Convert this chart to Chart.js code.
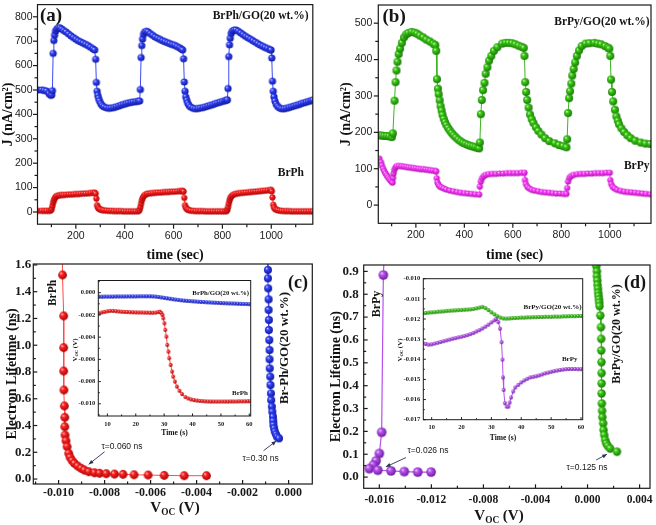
<!DOCTYPE html>
<html><head><meta charset="utf-8">
<script src="https://cdn.jsdelivr.net/npm/chart.js@4.4.1/dist/chart.umd.min.js"></script>
<style>
html,body{margin:0;padding:0;background:#fff;}
#wrap{position:relative;width:656px;height:525px;overflow:hidden;background:#fff;}
canvas{position:absolute;}
.lbl{position:absolute;white-space:nowrap;line-height:1;color:#151515;}
.serif{font-family:"Liberation Serif","Times New Roman",serif;font-weight:bold;}
.sans{font-family:"Liberation Sans",Arial,sans-serif;}
.sub{font-size:0.62em;position:relative;top:0.3em;}
</style></head>
<body><div id="wrap">
<canvas id="cA"></canvas><canvas id="cB"></canvas><canvas id="cC"></canvas><canvas id="cD"></canvas>
<canvas id="cIC"></canvas><canvas id="cID"></canvas>
</div>
<script>
// ---------------- DATA ----------------
// (a) photocurrent vs time
const timeA = [45,60,70,80,90,97,101,104,107,110,113,117,122,128,135,142,150,160,170,180,190,200,210,220,230,240,250,260,270,277,281,284,287,290,293,297,302,308,315,325,335,345,355,365,375,385,395,405,415,425,435,445,455,461,464,467,470,473,477,482,489,496,505,515,525,535,545,555,565,575,585,595,605,615,625,632,637,641,644,647,650,654,658,663,670,680,690,700,710,720,730,740,750,760,770,780,790,800,810,817,820,823,826,829,832,836,841,848,856,865,875,885,895,905,915,925,935,945,955,965,975,985,995,999,1002,1005,1008,1011,1015,1020,1026,1033,1042,1052,1062,1072,1082,1092,1102,1112,1122,1132,1142,1152,1162,1170];
const jBrPhGO = [500,500,498,496,485,478,480,497,650,703,725,742,750,755,755,750,744,738,730,722,715,708,702,697,692,687,682,675,669,664,626,531,495,478,466,455,444,436,431,427,425,426,428,431,434,438,441,444,447,449,451,452,454,455,502,633,682,709,728,738,741,738,731,724,717,712,707,702,698,694,690,686,683,678,673,668,664,628,533,495,472,458,446,437,430,425,423,424,426,428,431,434,437,440,444,447,450,453,456,458,460,506,637,685,712,732,742,746,746,741,734,727,720,714,708,702,696,690,684,679,674,670,665,664,631,536,495,472,455,442,433,427,423,423,425,428,431,434,437,440,444,447,450,453,456,458];
const jBrPh = [5,5,5,5,5,6,12,25,38,48,56,62,66,68,69,70,70,71,72,72,73,74,74,75,76,76,77,78,79,80,75,55,28,19,15,12,10,8,7,6,5,5,4,4,4,4,3,3,3,3,3,3,3,8,20,34,47,57,64,70,74,76,77,78,79,80,80,81,82,82,83,84,84,85,86,86,87,84,58,28,18,13,10,8,6,5,4,4,4,4,3,3,3,3,3,3,3,3,3,4,9,20,34,47,57,64,69,73,75,77,78,79,80,81,82,83,84,85,86,87,88,89,90,91,85,60,30,19,13,10,8,6,5,4,4,4,3,3,3,3,3,3,3,3,3,3];

// (b)
const timeBrPyGO = [49,60,70,80,90,101,105,112,116,120,124,129,135,142,151,160,169,182,195,205,216,230,243,257,271,280,284,287,291,294,298,302,306,310,315,320,326,333,340,348,356,365,375,385,395,405,415,425,435,445,455,461,464,468,472,477,483,488,495,502,511,522,536,556,570,583,597,610,624,637,645,648,651,655,659,665,671,678,685,695,705,718,733,750,773,790,807,821,824,828,832,836,841,845,851,857,864,873,884,900,916,936,950,964,980,992,998,1002,1005,1009,1014,1021,1027,1033,1038,1048,1059,1072,1086,1105,1127,1147,1167];
const jBrPyGO = [192,191,190,190,189,187,197,287,338,370,394,415,430,446,461,469,473,476,474,471,466,461,455,450,444,440,424,346,320,305,288,272,260,248,237,228,220,212,205,198,192,186,180,175,171,168,165,163,161,159,157,156,172,250,289,316,336,361,379,397,410,424,434,444,446,446,445,442,438,435,432,410,338,311,289,268,249,236,226,214,204,194,184,176,170,165,162,159,181,253,294,313,334,356,374,392,410,425,437,444,445,446,444,442,437,433,430,410,345,311,285,262,244,232,222,211,201,192,184,177,172,169,168];
const timeBrPy = [49,56,60,65,70,75,80,85,90,95,100,104,106,108,111,115,120,130,140,150,160,170,180,190,200,210,220,230,240,250,260,270,280,284,286,289,293,298,305,315,325,340,355,370,385,400,415,430,445,461,464,468,473,480,488,500,515,530,545,560,575,590,605,620,635,648,650,654,660,668,678,690,705,720,735,750,765,780,795,810,821,824,828,833,840,850,865,880,895,910,925,940,955,970,985,1000,1002,1006,1012,1020,1030,1045,1060,1075,1090,1105,1120,1135,1150,1167];
const jBrPy = [128,118,109,100,93,87,82,77,72,68,64,62,75,87,97,103,107,108,107,106,105,104,103,102,101,100,99,99,98,97,96,95,94,93,74,62,56,52,49,46,43,40,38,36,34,33,32,31,30,29,51,65,74,80,83,85,86,86,87,87,88,88,88,88,89,89,69,58,50,46,42,40,38,36,35,34,33,32,32,31,31,47,65,75,80,83,85,86,86,87,87,88,88,88,89,89,69,58,50,46,42,39,37,36,35,34,33,32,31,30];

// (c) electron lifetime vs Voc
const vocBrPh = [-0.00984,-0.00983,-0.00978,-0.00978,-0.00978,-0.00977,-0.00975,-0.00973,-0.00973,-0.00972,-0.00968,-0.00963,-0.00956,-0.0095,-0.00941,-0.00931,-0.00917,-0.00902,-0.00888,-0.00869,-0.00844,-0.00822,-0.00793,-0.00757,-0.0072,-0.00672,-0.00611,-0.00541,-0.00454,-0.00357];
const tauBrPh = [1.75,1.525,1.219,0.982,0.807,0.665,0.546,0.461,0.391,0.329,0.286,0.242,0.192,0.162,0.137,0.117,0.097,0.080,0.067,0.055,0.047,0.043,0.040,0.037,0.035,0.032,0.030,0.027,0.025,0.025];
const vocBrPhGO = [-0.00091,-0.00090,-0.00090,-0.00089,-0.00087,-0.00087,-0.00086,-0.00086,-0.00084,-0.00083,-0.00083,-0.00082,-0.00080,-0.00079,-0.00077,-0.00076,-0.00073,-0.00071,-0.00068,-0.00067,-0.00066,-0.00063,-0.00060,-0.00055,-0.00050,-0.00042];
const tauBrPhGO = [1.70,1.563,1.500,1.425,1.343,1.264,1.189,1.114,1.039,0.964,0.895,0.827,0.765,0.703,0.640,0.590,0.541,0.503,0.466,0.434,0.404,0.379,0.354,0.334,0.316,0.304];

// (c) inset: Voc vs time
const tInsetBrPhGO = [7,8,9,10,11,12,13,14,15,16,17,18,19,20,21,22,23,24,25,26,27,28,29,30,31,32,33,34,35,36,37,38,39,40,41,42,43,44,45,46,47,48,49,50,51,52,53,54,55,56,57,58,59,60];
const vInsetBrPhGO = [-0.00036,-0.00036,-0.00035,-0.00035,-0.00035,-0.00035,-0.00034,-0.00034,-0.00034,-0.00034,-0.00033,-0.00033,-0.00033,-0.00033,-0.00032,-0.00032,-0.00032,-0.00032,-0.00032,-0.00033,-0.00035,-0.00038,-0.00042,-0.00046,-0.0005,-0.00054,-0.00058,-0.00062,-0.00065,-0.00068,-0.00071,-0.00073,-0.00075,-0.00077,-0.00079,-0.00081,-0.00083,-0.00084,-0.00086,-0.00087,-0.00089,-0.0009,-0.00091,-0.00093,-0.00094,-0.00095,-0.00096,-0.00097,-0.00098,-0.00099,-0.001,-0.00101,-0.00102,-0.00103];
const tInsetBrPh = [7,8,9,10,11,12,13,14,15,16,17,18,19,20,21,22,23,24,25,26,27,28,28.5,29,29.4,29.7,30.1,30.4,30.8,31.1,31.5,31.8,32.3,32.8,33.2,33.8,34.5,35.4,36.3,37.5,38.5,39.5,40.5,41.5,42.5,43.5,44.5,45.5,46.5,47.5,48.5,49.5,50.5,51.5,52.5,53.5,54.5,55.5,56.5,57.5,58.5,59.5,60.3];
const vInsetBrPh = [-0.00185,-0.00178,-0.00172,-0.00167,-0.00164,-0.00164,-0.00166,-0.00169,-0.00171,-0.00173,-0.00174,-0.00175,-0.00176,-0.00177,-0.00178,-0.00178,-0.00179,-0.00179,-0.0018,-0.0018,-0.00179,-0.00174,-0.00171,-0.00182,-0.002,-0.0023,-0.00275,-0.00335,-0.00395,-0.0047,-0.0053,-0.0059,-0.0065,-0.0071,-0.00755,-0.008,-0.00845,-0.00883,-0.00913,-0.0094,-0.00952,-0.00961,-0.00967,-0.00971,-0.00974,-0.00976,-0.00978,-0.00979,-0.0098,-0.0098,-0.0098,-0.0098,-0.0098,-0.0098,-0.0098,-0.00979,-0.00979,-0.00979,-0.00978,-0.00978,-0.00978,-0.00977,-0.00977];

// (d) electron lifetime vs Voc
const vocBrPy = [-0.01560,-0.01569,-0.01582,-0.01600,-0.01625,-0.01646,-0.01677,-0.01612,-0.01510,-0.01408,-0.01305,-0.01202];
const tauBrPy = [1.00,0.884,0.196,0.103,0.071,0.052,0.037,0.030,0.027,0.024,0.022,0.022];
const vocBrPyGO = [0.00065,0.00067,0.00072,0.00072,0.00075,0.00077,0.00080,0.00082,0.00085,0.00088,0.00090,0.00092,0.00098,0.00103,0.00105,0.00105,0.00107,0.00108,0.00108,0.00108,0.00110,0.00112,0.00114,0.00120,0.00123,0.00128,0.00136,0.00144,0.00156,0.00174,0.00226];
const tauBrPyGO = [0.95,0.923,0.900,0.879,0.860,0.841,0.824,0.806,0.792,0.777,0.763,0.748,0.707,0.656,0.605,0.554,0.503,0.455,0.410,0.366,0.322,0.290,0.262,0.235,0.206,0.184,0.162,0.147,0.136,0.125,0.111];

// (d) inset
const tInsetBrPyGO = [7,8,9,10,11,12,13,14,15,16,17,18,19,20,21,22,23,24,25,26,27,28,29,30,31,32,33,34,35,36,37,38,39,40,41,42,43,44,45,46,47,48,49,50,51,52,53,54,55,56,57,58,59,60];
const vInsetBrPyGO = [-0.01172,-0.0117,-0.01168,-0.01167,-0.01166,-0.01164,-0.01163,-0.01162,-0.0116,-0.01159,-0.01158,-0.01157,-0.01156,-0.01155,-0.01154,-0.01153,-0.01152,-0.0115,-0.01147,-0.01143,-0.0114,-0.01146,-0.01156,-0.01167,-0.01177,-0.01186,-0.01193,-0.01197,-0.01198,-0.01197,-0.01196,-0.01195,-0.01194,-0.01193,-0.01193,-0.01192,-0.01192,-0.01191,-0.01191,-0.0119,-0.0119,-0.01189,-0.01189,-0.01189,-0.01188,-0.01188,-0.01188,-0.01187,-0.01187,-0.01186,-0.01186,-0.01186,-0.01185,-0.01185];
const tInsetBrPy = [7,8,9,10,11,12,13,14,15,16,17,18,19,20,21,22,23,24,25,26,27,28,29,30,31,31.6,32.3,32.9,33.4,33.7,33.9,34.1,34.5,35.1,35.7,36.1,36.6,37.3,38,39,40,41,42,43,44,45,46,47,48,49,50,51,52,53,54,55,56,57,58,59,60];
const vInsetBrPy = [-0.0132,-0.01324,-0.01327,-0.01326,-0.01322,-0.01318,-0.01314,-0.0131,-0.01306,-0.01302,-0.01298,-0.01295,-0.01291,-0.01288,-0.01284,-0.0128,-0.01275,-0.01269,-0.01262,-0.01255,-0.01247,-0.01238,-0.01228,-0.01217,-0.01207,-0.012,-0.01215,-0.01248,-0.01315,-0.01402,-0.0149,-0.01552,-0.01618,-0.01635,-0.01635,-0.01615,-0.0159,-0.0156,-0.0154,-0.01527,-0.01515,-0.01505,-0.01497,-0.0149,-0.01487,-0.01484,-0.0148,-0.01475,-0.0147,-0.01466,-0.01462,-0.01459,-0.01456,-0.01453,-0.01451,-0.01449,-0.01448,-0.01448,-0.01448,-0.01449,-0.01449];

// ---------------- TICKS ----------------
const ticksTime = [100,200,300,400,500,600,700,800,900,1000,1100];
const labelsTime = ['','200','','400','','600','','800','','1000',''];
const ticksJA = [0,50,100,150,200,250,300,350,400,450,500,550,600,650,700,750,800];
const labelsJA = ['0','','100','','200','','300','','400','','500','','600','','700','','800'];
const ticksJB = [0,50,100,150,200,250,300,350,400,450,500];
const labelsJB = ['0','','100','','200','','300','','400','','500'];
const ticksVocC = [-0.011,-0.010,-0.009,-0.008,-0.007,-0.006,-0.005,-0.004,-0.003,-0.002,-0.001,0];
const labelsVocC = ['','-0.010','','-0.008','','-0.006','','-0.004','','-0.002','','0.000'];
const ticksTauC = [0,0.1,0.2,0.3,0.4,0.5,0.6,0.7,0.8,0.9,1.0,1.1,1.2,1.3,1.4,1.5,1.6];
const labelsTauC = ['0.0','','0.2','','0.4','','0.6','','0.8','','1.0','','1.2','','1.4','','1.6'];
const ticksVocD = [-0.016,-0.014,-0.012,-0.010,-0.008,-0.006,-0.004,-0.002,0,0.002,0.004];
const labelsVocD = ['-0.016','','-0.012','','-0.008','','-0.004','','0.000','','0.004'];
const ticksTauD = [0,0.05,0.1,0.15,0.2,0.25,0.3,0.35,0.4,0.45,0.5,0.55,0.6,0.65,0.7,0.75,0.8,0.85,0.9];
const labelsTauD = ['0.0','','0.1','','0.2','','0.3','','0.4','','0.5','','0.6','','0.7','','0.8','','0.9'];
const ticksTimeInset = [10,15,20,25,30,35,40,45,50,55,60];
const labelsTimeInset = ['10','','20','','30','','40','','50','','60'];
const ticksVInC = [0.001,0,-0.001,-0.002,-0.003,-0.004,-0.005,-0.006,-0.007,-0.008,-0.009,-0.010,-0.011];
const labelsVInC = ['','0.000','','-0.002','','-0.004','','-0.006','','-0.008','','-0.010',''];
const ticksVInD = [-0.010,-0.0105,-0.011,-0.0115,-0.012,-0.0125,-0.013,-0.0135,-0.014,-0.0145,-0.015,-0.0155,-0.016,-0.0165,-0.017];
const labelsVInD = ['-0.010','','-0.011','','-0.012','','-0.013','','-0.014','','-0.015','','-0.016','','-0.017'];

// ---------------- HELPERS ----------------
const SERIF = '"Liberation Serif","Times New Roman",serif';
const SANS = '"Liberation Sans",Arial,sans-serif';
const pts = (xs, ys) => xs.map((x, i) => ({x, y: ys[i]}));

function sphere(r, hi, mid, lo) {
  const s = Math.ceil(2 * r + 2), c = document.createElement('canvas');
  c.width = c.height = s;
  const g = c.getContext('2d'), m = s / 2;
  const gr = g.createRadialGradient(m - r * 0.35, m - r * 0.4, 0, m - r * 0.1, m - r * 0.1, r * 1.2);
  gr.addColorStop(0, hi); gr.addColorStop(0.3, mid); gr.addColorStop(1, lo);
  g.fillStyle = gr; g.beginPath(); g.arc(m, m, r, 0, 2 * Math.PI); g.fill();
  return c;
}
const COL = {
  blue:   ['#dfe3ff', '#3444ff', '#0c1490', '#3a4cf2'],
  red:    ['#ffe0e0', '#ff2424', '#a00000', '#ff4a4a'],
  green:  ['#e2ffd6', '#3ccc14', '#17700a', '#3cb521'],
  pink:   ['#ffe2ff', '#ff44ff', '#a810a8', '#ff5cff'],
  purple: ['#f3dcff', '#bb55ee', '#64169a', '#b650ea']
};
function ds(xs, ys, col, r, lw) {
  const c = COL[col];
  return {data: pts(xs, ys), showLine: true, tension: 0, borderColor: c[3], borderWidth: lw,
          pointStyle: sphere(r, c[0], c[1], c[2]), pointRadius: r, pointHoverRadius: r};
}

const decoPlugin = {
  id: 'deco',
  afterDraw(chart, args, o) {
    const ctx = chart.ctx, a = chart.chartArea;
    ctx.save();
    ctx.strokeStyle = '#1a1a1a'; ctx.lineWidth = o.lw;
    const dir = o.inward ? 1 : -1;
    ['x', 'y'].forEach(id => {
      const s = chart.scales[id];
      s.ticks.forEach(t => {
        const len = (t.label !== '' && t.label != null) ? o.major : o.minor;
        const p = s.getPixelForValue(t.value);
        ctx.beginPath();
        if (id === 'x') { ctx.moveTo(p, a.bottom); ctx.lineTo(p, a.bottom - dir * len); }
        else { ctx.moveTo(a.left, p); ctx.lineTo(a.left + dir * len, p); }
        ctx.stroke();
      });
    });
    ctx.strokeRect(a.left, a.top, a.right - a.left, a.bottom - a.top);
    (o.arrows || []).forEach(ar => {
      const xs = chart.scales.x, ys = chart.scales.y;
      const x1 = xs.getPixelForValue(ar.from[0]), y1 = ys.getPixelForValue(ar.from[1]);
      const x2 = xs.getPixelForValue(ar.to[0]), y2 = ys.getPixelForValue(ar.to[1]);
      ctx.strokeStyle = '#2a3050'; ctx.fillStyle = '#2a3050'; ctx.lineWidth = 0.9;
      ctx.beginPath(); ctx.moveTo(x1, y1); ctx.lineTo(x2, y2); ctx.stroke();
      const ang = Math.atan2(y2 - y1, x2 - x1), L = 5;
      ctx.beginPath(); ctx.moveTo(x2, y2);
      ctx.lineTo(x2 - L * Math.cos(ang - 0.4), y2 - L * Math.sin(ang - 0.4));
      ctx.lineTo(x2 - L * Math.cos(ang + 0.4), y2 - L * Math.sin(ang + 0.4));
      ctx.closePath(); ctx.fill();
    });
    ctx.restore();
  }
};

function makeChart(id, box, plot, datasets, sx, sy, deco) {
  const cv = document.getElementById(id);
  cv.width = box.w; cv.height = box.h;
  cv.style.left = box.x + 'px'; cv.style.top = box.y + 'px';
  cv.style.width = box.w + 'px'; cv.style.height = box.h + 'px';
  const yW = plot.l - box.x, xH = box.y + box.h - plot.b;
  const mk = (s, fixed, isX) => ({
    type: 'linear', min: s.min, max: s.max,
    afterBuildTicks: sc => { sc.ticks = s.ticks.map(v => ({value: v})); },
    afterFit: sc => {
      if (isX) sc.height = fixed; else sc.width = fixed;
      sc.paddingLeft = 0; sc.paddingRight = 0; sc.paddingTop = 0; sc.paddingBottom = 0;
    },
    grid: {display: false, drawTicks: false, tickLength: 0},
    border: {display: false},
    ticks: {autoSkip: false, maxRotation: 0, minRotation: 0, padding: s.pad, color: '#1a1a1a',
            font: s.font, callback: (v, i) => s.labels[i]},
    title: s.title ? {display: true, text: s.title, color: '#111', font: s.titleFont, padding: s.titlePad}
                   : {display: false}
  });
  return new Chart(cv, {
    type: 'scatter',
    data: {datasets},
    options: {
      responsive: false, animation: false, devicePixelRatio: 1, events: [],
      layout: {padding: {left: 0, top: plot.t - box.y, right: box.x + box.w - plot.r, bottom: 0}},
      plugins: {legend: {display: false}, tooltip: {enabled: false}, deco},
      scales: {x: mk(sx, xH, true), y: mk(sy, yW, false)}
    },
    plugins: [decoPlugin]
  });
}

const fSansTick = {family: SANS, size: 10.5};
const fTitle = {family: SERIF, size: 14, weight: 'bold'};

// (a)
makeChart('cA', {x: 0, y: 0, w: 318, h: 264}, {l: 37.5, t: 3.3, r: 312.8, b: 224.2},
  [ds(timeA, jBrPhGO, 'blue', 3.6, 1), ds(timeA, jBrPh, 'red', 3.1, 1)],
  {min: 43, max: 1170, ticks: ticksTime, labels: labelsTime, pad: 6, font: fSansTick,
   title: 'time (sec)', titleFont: fTitle, titlePad: {top: 0, bottom: 0}},
  {min: -50, max: 850, ticks: ticksJA, labels: labelsJA, pad: 5, font: fSansTick,
   title: 'J (nA/cm\u00B2)', titleFont: fTitle, titlePad: {top: 0, bottom: 0}},
  {lw: 1.2, major: 4.5, minor: 3, inward: false});

// (b)
makeChart('cB', {x: 338, y: 0, w: 318, h: 264}, {l: 378.3, t: 3.3, r: 652.7, b: 223.3},
  [ds(timeBrPyGO, jBrPyGO, 'green', 4, 1), ds(timeBrPy, jBrPy, 'pink', 3.1, 1)],
  {min: 45, max: 1170, ticks: ticksTime, labels: labelsTime, pad: 6, font: fSansTick,
   title: 'time (sec)', titleFont: fTitle, titlePad: {top: 0, bottom: 0}},
  {min: -50, max: 550, ticks: ticksJB, labels: labelsJB, pad: 6, font: fSansTick,
   title: 'J (nA/cm\u00B2)', titleFont: fTitle, titlePad: {top: 0, bottom: 0}},
  {lw: 1.2, major: 4.5, minor: 3, inward: false});

// (c)
makeChart('cC', {x: 0, y: 258, w: 320, h: 267}, {l: 33.3, t: 264, r: 312.3, b: 484},
  [ds(vocBrPh, tauBrPh, 'red', 4.4, 1), ds(vocBrPhGO, tauBrPhGO, 'blue', 4, 1)],
  {min: -0.0111, max: 0.00103, ticks: ticksVocC, labels: labelsVocC, pad: 2,
   font: {family: SERIF, size: 12, weight: 'bold'}},
  {min: -0.037, max: 1.607, ticks: ticksTauC, labels: labelsTauC, pad: 2,
   font: {family: SERIF, size: 13, weight: 'bold'},
   title: 'Electron Lifetime (ns)', titleFont: fTitle, titlePad: {top: 3.6, bottom: 0}},
  {lw: 1.2, major: 4, minor: 2.5, inward: true,
   arrows: [{from: [-0.0080, 0.204], to: [-0.00869, 0.110]}, {from: [-0.00109, 0.212], to: [-0.00054, 0.284]}]});

// (d)
makeChart('cD', {x: 326, y: 258, w: 330, h: 267}, {l: 363.7, t: 265, r: 650.3, b: 488.3},
  [ds(vocBrPy, tauBrPy, 'purple', 4.8, 1.2), ds(vocBrPyGO, tauBrPyGO, 'green', 4.2, 1)],
  {min: -0.0172, max: 0.0048, ticks: ticksVocD, labels: labelsVocD, pad: 5,
   font: {family: SERIF, size: 11.5, weight: 'bold'}},
  {min: -0.049, max: 0.928, ticks: ticksTauD, labels: labelsTauD, pad: 5,
   font: {family: SERIF, size: 13, weight: 'bold'},
   title: 'Electron Lifetime (ns)', titleFont: fTitle, titlePad: {top: 1.6, bottom: 0}},
  {lw: 1.2, major: 4, minor: 2.5, inward: true,
   arrows: [{from: [-0.01395, 0.0855], to: [-0.01549, 0.045]}, {from: [0.00067, 0.075], to: [0.00149, 0.100]}]});

// insets
const fIn = {family: SERIF, size: 6.5, weight: 'bold'};
const fInTitle = {family: SERIF, size: 7.5, weight: 'bold'};
makeChart('cIC', {x: 60, y: 274, w: 196, h: 164}, {l: 98.3, t: 280.5, r: 250.7, b: 416},
  [ds(tInsetBrPhGO, vInsetBrPhGO, 'blue', 1.9, 1), ds(tInsetBrPh, vInsetBrPh, 'red', 1.9, 1)],
  {min: 6.8, max: 60.5, ticks: ticksTimeInset, labels: labelsTimeInset, pad: 4, font: fIn,
   title: 'Time (s)', titleFont: fInTitle, titlePad: {top: 0, bottom: 0}},
  {min: -0.0111, max: 0.0011, ticks: ticksVInC, labels: labelsVInC, pad: 3, font: fIn},
  {lw: 1, major: 2.5, minor: 1.5, inward: true});
makeChart('cID', {x: 390, y: 272, w: 198, h: 171}, {l: 423.3, t: 278.7, r: 582.7, b: 419.7},
  [ds(tInsetBrPyGO, vInsetBrPyGO, 'green', 1.9, 1), ds(tInsetBrPy, vInsetBrPy, 'purple', 1.9, 1)],
  {min: 7.2, max: 60.57, ticks: ticksTimeInset, labels: labelsTimeInset, pad: 4, font: fIn,
   title: 'Time (s)', titleFont: fInTitle, titlePad: {top: 0, bottom: 0}},
  {min: -0.017, max: -0.010, ticks: ticksVInD, labels: labelsVInD, pad: 3, font: fIn},
  {lw: 1, major: 2.5, minor: 1.5, inward: true});

// ---------------- TEXT ANNOTATIONS ----------------
const wrap = document.getElementById('wrap');
function addLabel(html, x, y, size, anchor, cls, rot) {
  const d = document.createElement('div');
  d.className = 'lbl ' + (cls || 'serif');
  d.innerHTML = html;
  d.style.fontSize = size + 'px';
  d.style.left = x + 'px'; d.style.top = y + 'px';
  const ax = anchor === 'right' ? '-100%' : anchor === 'left' ? '0' : '-50%';
  d.style.transform = 'translate(' + ax + ',-50%)' + (rot ? ' rotate(' + rot + 'deg)' : '');
  wrap.appendChild(d);
}
addLabel('(a)', 40, 14, 19, 'left');
addLabel('BrPh/GO(20 wt.%)', 308.5, 15.5, 11.5, 'right');
addLabel('BrPh', 304, 173, 11.5, 'right');
addLabel('(b)', 382.5, 15, 19, 'left');
addLabel('BrPy/GO(20 wt.%)', 649.5, 22, 11.5, 'right');
addLabel('BrPy', 649.5, 165.5, 11.5, 'right');
addLabel('(c)', 288, 281.5, 18, 'left');
addLabel('BrPh', 52.5, 292.5, 11.5, 'center', 'serif', -90);
addLabel('Br-Ph/GO(20 wt.%)', 283, 348, 13, 'center', 'serif', -90);
addLabel('(d)', 624, 282, 18, 'left');
addLabel('BrPy', 376, 304, 12, 'center', 'serif', -90);
addLabel('BrPy/GO(20 wt.%)', 615.5, 334, 12, 'center', 'serif', -90);
addLabel('\u03C4=0.060 ns', 101.5, 446, 8.5, 'left', 'sans');
addLabel('\u03C4=0.30 ns', 242.5, 458, 8.5, 'left', 'sans');
addLabel('\u03C4=0.026 ns', 407.5, 449.5, 8.5, 'left', 'sans');
addLabel('\u03C4=0.125 ns', 566.5, 467, 8.5, 'left', 'sans');
addLabel('V<span class="sub">OC</span> (V)', 175, 507, 15, 'center');
addLabel('V<span class="sub">OC</span> (V)', 499, 515, 15, 'center');
addLabel('BrPh/GO(20 wt.%)', 249, 292.5, 6.8, 'right');
addLabel('BrPh', 248, 393, 7, 'right');
addLabel('BrPy/GO(20 wt.%)', 581.5, 306.5, 7, 'right');
addLabel('BrPy', 577.5, 359, 7, 'right');
addLabel('V<span class="sub">OC</span> (V)', 75, 350, 7, 'center', 'serif', -90);
addLabel('V<span class="sub">OC</span> (V)', 399.5, 350, 7, 'center', 'serif', -90);
</script>
</body></html>
